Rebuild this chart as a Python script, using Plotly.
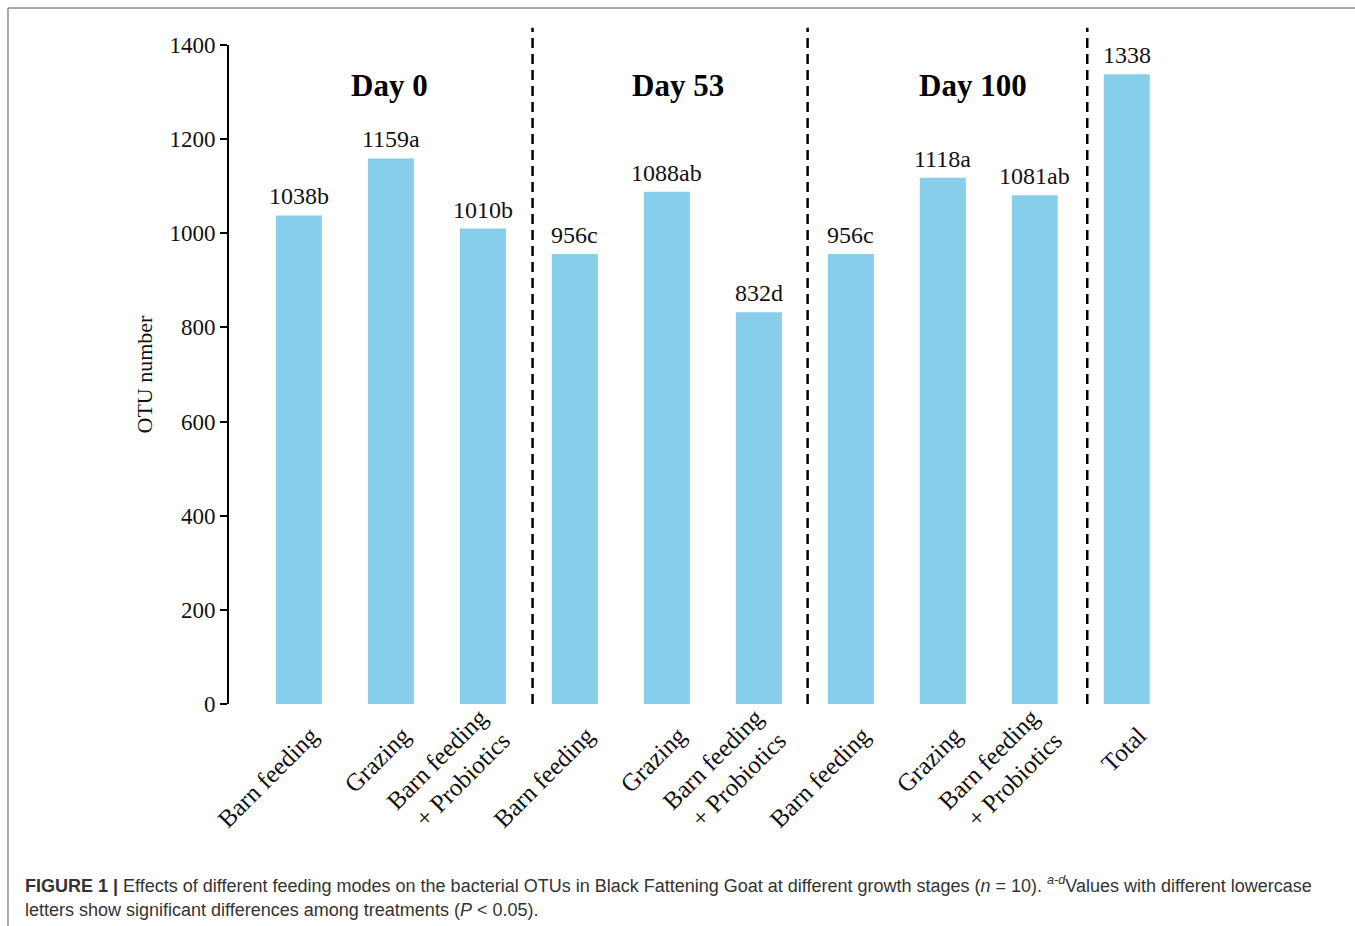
import plotly.graph_objects as go

categories = ["Barn feeding", "Grazing", "Barn feeding<br>+ Probiotics",
              "Barn feeding", "Grazing", "Barn feeding<br>+ Probiotics",
              "Barn feeding", "Grazing", "Barn feeding<br>+ Probiotics",
              "Total"]
values = [1038, 1159, 1010, 956, 1088, 832, 956, 1118, 1081, 1338]
letters = ["b", "a", "b", "c", "ab", "d", "c", "a", "ab", ""]
group_names = ["Day 0", "Day 53", "Day 100"]
group_centers = [0.99, 4.12, 7.33]
divider_positions = [2.54, 5.53, 8.57]
y_ticks = [0, 200, 400, 600, 800, 1000, 1200, 1400]

xs = list(range(len(values)))
single_idx = [i for i, c in enumerate(categories) if "<br>" not in c]
multi_idx = [i for i, c in enumerate(categories) if "<br>" in c]
SERIF = "Liberation Serif, Times New Roman, serif"
SANS = "Liberation Sans, Arial, sans-serif"

fig = go.Figure()
fig.add_trace(go.Bar(
    x=xs, y=values, width=0.5,
    marker=dict(color="#87CEEB", line=dict(width=0)),
    hoverinfo="skip",
))
# invisible helper trace so the second category-label axis is drawn
fig.add_trace(go.Scatter(x=[xs[0]], y=[0], xaxis="x2", mode="markers",
                         marker=dict(opacity=0), hoverinfo="skip"))

annotations = []
for x, v, l in zip(xs, values, letters):
    annotations.append(dict(x=x, y=v, xref="x", yref="y", text=f"{v}{l}",
                            showarrow=False, yanchor="bottom", yshift=4,
                            font=dict(family=SERIF, size=24, color="#111")))
for name, cx in zip(group_names, group_centers):
    annotations.append(dict(x=cx, y=1313, xref="x", yref="y", text=f"<b>{name}</b>",
                            showarrow=False, yanchor="middle",
                            font=dict(family=SERIF, size=31, color="#000")))

# caption
annotations.append(dict(
    x=-0.2161, y=-0.2745, xref="paper", yref="paper", xanchor="left", yanchor="middle",
    align="left", showarrow=False,
    text="<b>FIGURE 1 |</b> Effects of different feeding modes on the bacterial OTUs in Black Fattening Goat at different growth stages (<i>n</i> = 10). <sup><i>a-d</i></sup>Values with different lowercase",
    font=dict(family=SANS, size=18, color="#333")))
annotations.append(dict(
    x=-0.2161, y=-0.3126, xref="paper", yref="paper", xanchor="left", yanchor="middle",
    align="left", showarrow=False,
    text="letters show significant differences among treatments (<i>P</i> < 0.05).",
    font=dict(family=SANS, size=18, color="#333")))

shapes = []
for d in divider_positions:
    shapes.append(dict(type="line", xref="x", yref="paper", x0=d, x1=d, y0=0, y1=1.026,
                       line=dict(color="#000", width=2.5, dash="10px,6px")))
# figure frame
shapes.append(dict(type="line", xref="paper", yref="paper", x0=-0.2319, x1=1.2, y0=1.0561, y1=1.0561,
                   line=dict(color="#555", width=1)))
shapes.append(dict(type="line", xref="paper", yref="paper", x0=-0.2319, x1=-0.2319, y0=1.0561, y1=-0.35,
                   line=dict(color="#555", width=1)))

common_x = dict(range=[-0.76, 9.6], tickmode="array", tickangle=-45, showline=False,
                showgrid=False, zeroline=False, ticks="",
                tickfont=dict(family=SERIF, size=25, color="#111"))

fig.update_layout(
    width=1355, height=926,
    margin=dict(l=229, r=173, t=45, b=222),
    paper_bgcolor="white", plot_bgcolor="white",
    showlegend=False,
    annotations=annotations, shapes=shapes,
    xaxis=dict(**common_x, tickvals=[xs[i] for i in single_idx],
               ticktext=[categories[i] for i in single_idx],
               ticklabelshift=12, ticklabelstandoff=11),
    xaxis2=dict(**common_x, overlaying="x", matches="x", side="bottom",
                tickvals=[xs[i] for i in multi_idx],
                ticktext=[categories[i] for i in multi_idx],
                ticklabelshift=-3, ticklabelstandoff=-7),
    yaxis=dict(range=[0, 1400], tickmode="array", tickvals=y_ticks,
               showline=True, linecolor="#000", linewidth=2, ticks="outside", ticklen=7,
               tickcolor="#000", tickwidth=1.5, showgrid=False, zeroline=False,
               tickfont=dict(family=SERIF, size=23, color="#111"),
               title=dict(text="OTU number", standoff=11,
                          font=dict(family=SERIF, size=22, color="#111"))),
)

fig.write_html("out.html")
